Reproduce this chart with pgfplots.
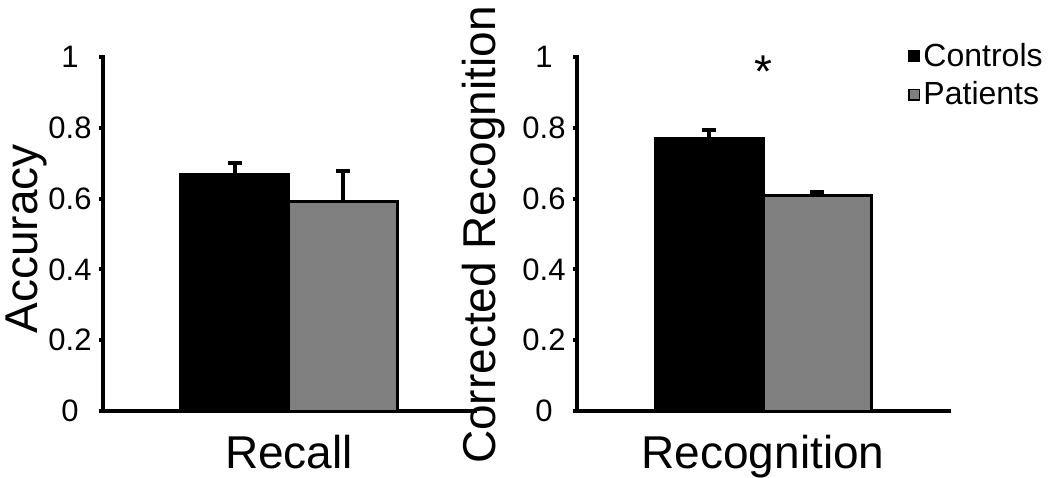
\documentclass[border=0pt]{standalone}
\usepackage{pgfplots}
\pgfplotsset{compat=1.18}
\usepackage{fontspec}
\setmainfont{Liberation Sans}
\definecolor{patgray}{RGB}{128,128,128}
\newcommand{\labfont}{\fontsize{23}{27}\selectfont}

\pgfplotsset{
  panel/.style={
    scale only axis, width=186pt, height=177pt,
    axis lines*=left,
    axis line style={line width=2pt, line cap=rect},
    xmin=-1, xmax=1, ymin=0, ymax=1,
    ytick={0,0.2,0.4,0.6,0.8,1},
    yticklabels={0,0.2,0.4,0.6,0.8,1},
    xtick=\empty,
    tick align=outside, major tick length=2pt,
    ytick style={line width=2pt, black},
    yticklabel style={font=\fontsize{15.5}{18}\selectfont, anchor=center, xshift=-14.5pt, inner sep=0pt},
    every axis x label/.style={at={(axis description cs:0.5,0)}, anchor=base, yshift=-28.5pt, font=\labfont},
    ybar=0pt, bar width=54pt,
    error bars/y dir=plus, error bars/y explicit,
    error bars/error bar style={line width=2pt, black},
    error bars/error mark options={rotate=90, mark size=3.5pt, line width=2pt, black},
    clip=false,
  },
  ctrl/.style={fill=black, draw=black, line width=1.5pt},
  pat/.style={fill=patgray, draw=black, line width=1.5pt},
  sqlegend/.style={legend image code/.code={\draw[##1, line width=0.6pt] (0pt,-2.7pt) rectangle (5.4pt,2.7pt);}},
}

\begin{document}
\begin{tikzpicture}
\useasboundingbox (0,0) rectangle (525pt,238.5pt);

% left panel: recall
\begin{axis}[panel, at={(51.5pt,33pt)}, anchor=south west,
  xlabel={Recall},
  every axis y label/.style={at={(axis description cs:-0.177,0.486)}, rotate=90, anchor=base, font=\labfont},
  ylabel={Accuracy}]
\addplot[ctrl] coordinates {(0,0.669) +- (0,0.032)};
\addplot[pat] coordinates {(0,0.592) +- (0,0.086)};
\end{axis}

% right panel: recognition
\begin{axis}[panel, at={(288.5pt,33pt)}, anchor=south west,
  xlabel={Recognition},
  every axis y label/.style={at={(axis description cs:-0.22,0.497)}, rotate=90, anchor=base, font=\labfont},
  ylabel={Corrected Recognition},
  legend style={at={(axis description cs:0.89,1.048)}, anchor=north west,
    draw=none, fill=none, inner sep=0pt, row sep=3pt,
    font=\fontsize{16}{19}\selectfont,
    nodes={inner sep=1.5pt}},
  legend cell align=left]
\addplot[ctrl, sqlegend] coordinates {(0,0.770) +- (0,0.025)};
\addlegendentry{Controls}
\addplot[pat, sqlegend] coordinates {(0,0.609) +- (0,0.010)};
\addlegendentry{Patients}
\node[font=\labfont, anchor=base] at (axis cs:0,0.915) {*};
\end{axis}
\end{tikzpicture}
\end{document}
